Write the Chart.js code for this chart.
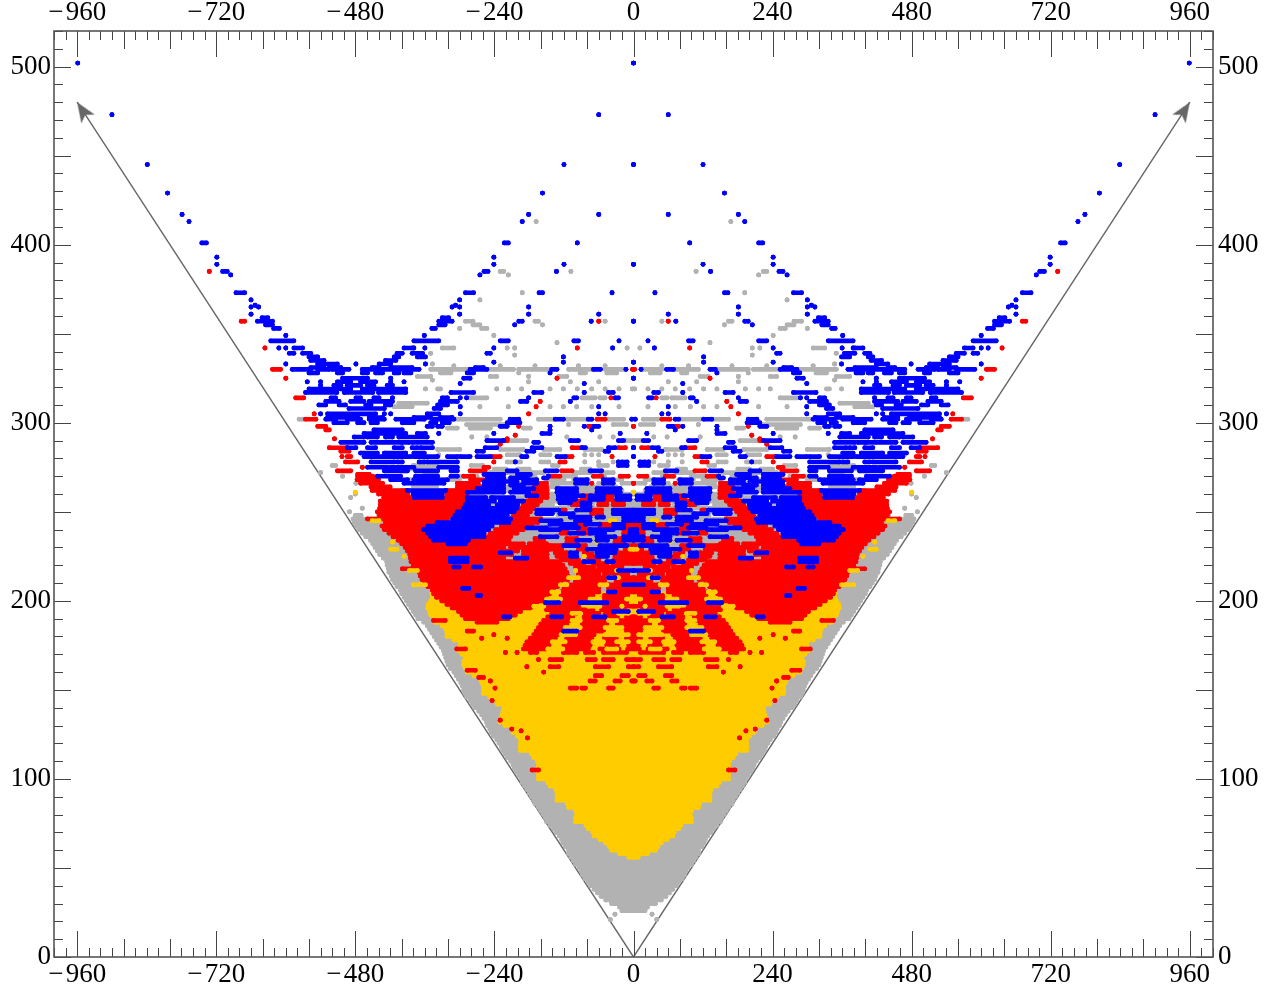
<!DOCTYPE html>
<html>
<head>
<meta charset="utf-8">
<style>
  html, body { margin: 0; padding: 0; background: #fff; }
  canvas { display: block; }
</style>
<script src="https://cdn.jsdelivr.net/npm/chart.js@4/dist/chart.umd.js"></script>
</head>
<body>
<canvas id="grafica" width="1273" height="989"></canvas>
<script>
// filas de la mitad derecha: [y, x1, x2, x3, x4, ...], cada par es un tramo
const grayRows = [
[21,40,40],[24,32,32],[26,0,20],[28,0,24],[30,0,38],[32,0,48],[34,0,56],[36,0,62],[38,0,68],[40,0,74],[42,0,78],[44,0,84],[46,0,88],[48,0,90],[50,0,94],[52,0,100],[54,0,104],[56,0,108],[58,0,112],[60,0,112],[62,0,118],[64,0,122],[66,0,124],[68,0,128],[70,0,134],[72,0,138],[74,0,144],[76,0,150],[78,0,152],[80,0,156],[82,0,160],[84,0,164],[86,0,170],[88,0,172],[90,0,176],[92,0,180],[94,0,184],[96,0,188],[98,0,192],[100,0,194],[102,0,198],[104,0,202],[106,0,206],[108,0,208],[110,0,212],[112,0,218],[114,0,222],[116,0,226],[118,0,228],[120,0,232],[122,0,236],[124,0,242],[126,0,246],[128,0,248],[130,0,252],[132,0,254],[134,0,258],[136,0,262],[138,0,267],[140,0,274],[142,0,278],[144,0,282],[146,0,288],[148,0,291],[150,0,293],[152,0,295],[154,0,298],[156,0,302],[158,0,306],[160,0,310],[162,0,316],[164,0,320],[166,0,322],[168,0,324],[170,0,326],[172,0,328],[174,0,332],[176,0,336],[178,0,340],[180,0,344],[182,0,348],[184,0,352],[186,0,356],[188,0,362],[190,0,372],[192,0,376],[194,0,380],[196,0,384],[198,0,388],[200,0,392],[202,0,396],[204,0,400],[206,0,402],[208,0,408],[210,0,412],[212,0,416],[214,0,418],[216,0,422],[218,0,423],[220,0,425],[222,0,426],[224,0,432],[226,0,438],[228,0,442],[230,0,446],[232,0,450],[234,0,454],[236,0,462],[238,0,468],[240,0,474],[242,0,478],[244,0,482],[246,0,484],
[248,12,130,160,260,340,440,470,480],[250,14,100,120,240,330,430,490,490],[252,0,80,100,220,310,420,468,468],[254,0,60,70,110,140,290,320,410],[256,0,100,120,200,300,330,350,400],[258,10,80,110,210,240,270,340,400,488,488],[260,0,40,70,170,260,300,350,390,480,480],[262,20,90,170,230,310,350,370,400],[264,30,100,130,170,200,250,340,380],[266,0,20,40,60,100,140,180,210,340,380,479,479],[268,20,50,78,103,120,150,210,250,300,330,345,385],[270,50,70,100,130,170,210,270,300,502,502],[272,35,55,75,103,155,201,207,247,340,360,540,540],[274,75,90,180,200,220,240,345,390],[276,45,60,130,140,260,280,340,380,514,520],[278,35,35,60,60,84,84,146,160,195,218],[282,60,60,72,72,84,84,144,160,196,218,336,336],[285,55,84,127,155,190,230,300,338],[290,0,12,184,218],[292,35,35,58,58,115,115,253,253,279,279],[297,178,190,247,282,304,321],[299,12,35,112,112,218,288],[302,17,43,80,115,138,164,230,305,571,577],[309,25,25,72,72,98,98,121,121,144,144,216,216,265,265,382,413],[311,356,405],[314,49,58,66,89,253,282],[319,2,2,25,25,49,49,72,72,97,97,121,121,144,144,193,193,216,216,236,236,333,338,359,359],[323,60,60,109,109,181,181],[324,347,347],[326,115,129,181,181,236,247,350,373],[328,29,46,83,92,198,198,315,333],[330,17,49,72,112,147,198,207,253,282,350],[332,49,49,95,95,170,170,230,230,310,310],[333,347,347],[338,205,205],[339,350,350],[342,11,11,205,205,218,218,310,330],[345,132,132],[349,241,241],[353,253,262,300,300],[355,157,157,265,277],[357,49,49,164,170,277,290],[369,265,265],[373,192,192],[383,216,216],[385,108,108,224,230],[413,168,168]
];

const yellowRows = [
[56,0,8],[58,0,24],[60,0,38],[62,0,42],[64,0,48],[66,0,58],[68,0,68],[70,0,70],[72,0,78],[74,0,82],[76,0,100],[78,0,100],[80,0,98],[82,0,100],[84,0,112],[86,0,114],[88,0,132],[90,0,132],[92,0,132],[94,0,134],[96,0,144],[98,0,148],[100,0,164],[102,0,164],[104,0,164],[106,0,164],[108,0,164],[110,0,166],[112,0,172],[114,0,176],[116,0,195],[118,0,196],[120,0,195],[122,0,195],[124,0,200],[126,0,208],[128,0,210],[130,0,222],[132,0,230],[134,0,228],[136,0,227],[138,0,225],[140,0,224],[142,0,235],[144,0,241],[146,0,248],[148,0,259],[150,0,259],[152,0,259],[154,0,262],[156,0,264],[158,0,275],[160,0,287],[162,0,290],[164,0,293],[166,0,293],[168,0,290],[170,0,296],[172,0,302],[174,0,300],[176,0,299],[178,0,310],[180,0,322],[182,0,322],[184,0,324],[186,0,330],[188,0,342],[190,0,344],[192,0,350],[194,0,352],[196,0,355],[198,0,354],[200,0,350],[202,0,347],[204,0,348]
];

// amarillo que queda por encima del rojo
const yellowTopRows = [
[261,0,0,480,480],[245,32,40,439,451],[233,63,63,416,416],[229,0,6,63,75,408,419],[225,85,85,396,396],[217,29,29,100,100,373,387],[213,26,43,95,112],[209,46,58,115,126,359,380],[205,129,141],[201,0,12,58,75,126,150],[197,20,20,58,78,155,172],[193,9,26,92,106],[189,29,43,92,106],[185,20,49,92,118],[181,9,49,100,125],[177,9,29,52,70,118,140],[173,29,46,122,148]
];

const redRows = [
[385,732,732],[357,60,60,671,677],[342,97,97,636,636],[330,0,2,609,623],[325,132,132,600,600],[314,39,39,569,583],[312,161,161],[309,168,168],[305,181,181,551,551],[302,49,63,548,566],[298,0,0,72,78,198,198,531,545],[296,525,531],[293,204,204],[291,218,218,516,516],[290,218,224],[288,230,230],[286,14,26,89,106,494,525],[284,491,505],[281,37,37,106,115,230,244,488,494,503,503],[278,118,127,241,241,476,497],[275,250,258,468,468],[273,106,124,256,282,488,511],[271,456,476],[270,9,23,55,69,127,147,276,293,450,476],[268,252,281,440,477],[266,0,0,72,72,150,172,268,304,433,471],[264,150,172,264,304,420,453],
[262,149,172,276,322,393,451],[260,149,178,287,322,390,440],[259,37,52,72,89],[258,149,178,287,431],[257,37,52,72,89],[256,17,35,46,60,89,106,160,184,287,437],[254,17,35,46,60,89,106,166,190,287,437],[252,172,195,293,438],[251,55,72,118,124],[250,178,201,305,442],[249,55,72,118,124],[248,183,207,310,438],[246,160,212,321,459],[244,165,214,325,428],[243,0,12,35,58,83,95],[242,175,228,340,434],[241,0,12,35,58,83,95],[240,6,17,75,95,115,125,190,238,327,430],[238,6,17,75,95,115,125,201,247,327,422],[236,212,258,327,415],[235,17,32,98,115,155,170],[234,215,280,290,406],[233,17,32,98,115,155,170],[232,150,180,190,218,224,400],[231,0,14,83,95,124,144],[230,149,172,178,212,224,394],[229,0,14,83,95,124,144],
[228,149,190,200,390],[227,0,28,72,85,115,135],[226,149,190,210,386],[225,0,32,69,80,109,132],[224,149,183,224,385],[223,0,34,60,75,95,125],[222,127,178,185,384],[221,0,35,46,69,86,109],[220,122,380],[219,20,60,69,100],[218,118,399],[217,35,63,69,98],[216,115,370],[215,10,50,60,95],[214,113,368],[213,0,26,46,92],[212,113,365],[211,0,30,50,100],[210,125,360],[209,0,43,60,112],[208,131,355],[207,0,43,60,120],[206,138,347],[205,0,43,60,126],[204,145,345],[203,10,50,70,125],[202,150,340],[201,14,58,75,124],[200,155,331],[199,12,46,60,130],[198,167,322],[197,0,17,23,55,95,152],[196,178,313],[195,15,55,70,92,98,150],[194,195,302],[193,26,49,60,83,98,141],[192,204,296],[191,0,12,28,50,60,85,105,148],[190,216,290],[189,0,29,46,86,109,155,325,345],[188,236,270],[187,0,28,46,88,115,160],[185,0,20,49,89,121,164],[183,0,12,52,90,125,168,276,287],[181,0,9,68,100,129,172,241,241],[179,0,12,30,50,72,115,135,178,218,218,262,262],[177,0,8,30,50,72,118,141,184],[175,0,8,28,46,75,120,146,187],[173,0,10,25,30,46,58,78,121,150,190,290,305],[171,12,52,69,83,98,121,167,178,201,201,221,221],[167,0,12,35,52,66,80,124,144,164,164],[163,0,9,43,66,129,144,184,184],[161,273,287],[160,155,155],[158,9,20,55,66],[157,259,267],[155,0,3,23,32,66,75,247,247],[151,35,43,83,89,98,109,239,239],[144,244,244],[133,230,230],[128,210,210],[127,194,194],[123,183,183],[105,164,175]
];

const blueRows = [
[502,0,0,959,959],[473,60,60,900,900],[445,0,0,120,120,839,839],[429,157,157,804,804],[417,60,60,181,181,779,779],[413,192,192,767,767],[401,97,97,216,223,737,745],[393,241,241,719,719],[389,0,0,120,120,241,241,719,719],[385,133,133,251,258,701,709],[383,265,265,695,695],[373,37,37,157,163,276,290,671,686],[369,300,300,660,660],[366,307,307,653,653],[365,181,181,300,300,313,313,647,647,660,660],[361,60,60,181,181,300,300,660,660],[359,319,330,631,641],[357,0,0,73,73,192,198,313,336,623,649],[355,205,205,325,336,623,635],[353,342,348,611,621],[349,361,361,600,600],[346,25,25,95,103,216,230,336,379,586,626],
[342,36,36,241,241,360,360,379,379,382,396,571,586,600,600,612,612],[339,247,253,364,382,399,408,557,571,586,594],[337,121,121,359,373,405,413,545,560],[335,410,428,534,557],[334,0,0,121,121,241,241],[333,359,359,419,439,479,479,511,545,600,600],[331,259,273,382,419,439,451,505,525,534,557],[330,13,13,57,69,132,141,253,282,370,405,410,436,442,468,491,520,525,545,557,589],[328,144,144,276,287,384,396,405,413,433,445,459,468,502,511,545,560],[325,0,0,282,293,419,419,459,502],[323,396,396,419,419,445,471,488,511,540,540,563,563],[322,85,85,299,299],[321,416,425,448,459,471,494,505,517,540,540],[319,393,445,451,468,488,505,511,560],[317,35,43,85,85,158,172,276,315,393,440,450,499,512,566],[314,26,32,98,103,181,181,288,288,299,299,321,330,416,416,439,448,471,479,514,522],[312,109,109,184,195,304,333,416,456,465,488,508,531],[310,321,338,419,428,453,462,497,508,531,543],[309,60,60,299,299],[308,333,344,430,491],[305,49,49,60,60,299,299,336,356,419,419,430,430,445,528,540,540],[303,313,333,350,379,433,456,476,528],[302,3,3,72,78,121,135,198,213,310,333,338,347,361,410,430,456,471,494,514,531],[300,196,218,318,330,341,350,379,399,442,453,465,476,494,517],[298,60,68,85,85,144,144,218,230,330,338,347,356],[296,72,72,144,144,399,448],[294,23,23,144,158,241,241,336,336,359,373,393,445,448,465],[292,356,405,416,428,442,459,465,482],[290,17,26,95,109,224,253],[289,164,172,347,382,387,399,402,453,465,505],[286,0,0,32,43,83,89,158,175,236,256,347,367,373,382,399,413,445,459,479,494],[284,43,49,172,184,259,270],[283,361,379,393,430,442,471],[281,0,0,118,132,184,193,247,270,282,299,304,321,338,379,384,465],[278,11,20,26,26,204,204,304,356,361,370,399,408,413,453],[276,11,26],[275,304,336,379,419,425,459],[273,55,75,132,152,201,218,304,315,338,376,390,430],[271,178,200,224,258],[270,147,147,184,195,304,315,338,376,402,442],[269,149,155,183,212,224,252],[268,35,52,80,100,167,190,321,379,390,419],[267,201,258],[266,35,52,80,100,167,190,327,396],[265,190,212,224,258],
[263,23,63,98,132,172,206,224,270],[262,324,390],[261,23,63,98,132,181,212,224,287],[260,330,380],[259,6,29,52,75,86,130,167,184],[258,207,245,255,287,330,378],[257,6,29,52,75,100,130],[256,190,230,240,287],[255,75,89,109,127],[254,200,235,250,290],[253,75,89],[252,201,293],[251,0,35,75,98,129,167],[250,206,252,258,304],[249,0,35,104,127,140,167],[248,218,308],[247,0,17,52,63,75,109],[246,212,312],[245,0,17,75,100,125,160],[244,215,339],[243,17,35,58,83,100,144],[242,244,355],[241,17,35,95,125,150,184],[240,0,6,35,75,128,161,250,362],[238,0,6,50,75,86,110,258,355],[236,0,17,32,63,132,161,258,350],[234,0,17,45,63,75,98,285,345],[232,290,320],[231,12,58,95,120],[229,30,58,60,80],[227,32,63,98,109,212,230],[225,45,63,98,109],[224,184,204,287,316],[222,35,46,69,86,287,316],[219,264,276,301,310],[217,0,26],[213,32,43],[209,0,17],[207,284,295],[205,32,43],[203,264,270],[199,46,92,129,152],[194,9,35],[191,49,69,124,141,213,224],[183,98,121]
];

const arrowX = [0, 960];
const arrowY = [0, 480];

const xTickLabels = [-960, -720, -480, -240, 0, 240, 480, 720, 960];
const yTickLabels = [0, 100, 200, 300, 400, 500];

function aPuntos(rows) {
  const pts = [];
  [1, -1].forEach(lado => {
    rows.forEach(r => {
      for (let i = 1; i < r.length; i += 2) {
        pts.push({x: lado * r[i], y: r[0]}, {x: lado * r[i + 1], y: r[0]}, {x: null, y: null});
      }
    });
  });
  return pts;
}

function serie(rows, color) {
  return {
    data: aPuntos(rows),
    showLine: true,
    spanGaps: false,
    borderColor: color,
    backgroundColor: color,
    borderWidth: 4.6,
    borderCapStyle: 'round',
    pointRadius: 2.4,
    pointBorderWidth: 0
  };
}

// punta de flecha con muesca, el vértice queda en el centro del canvas
function puntaFlecha() {
  const c = document.createElement('canvas');
  c.width = 48; c.height = 48;
  const g = c.getContext('2d');
  g.fillStyle = '#666';
  g.beginPath();
  g.moveTo(24, 24);
  g.lineTo(32, 44);
  g.lineTo(24, 39);
  g.lineTo(16, 44);
  g.closePath();
  g.fill();
  return c;
}
const punta = puntaFlecha();

function flecha(signo) {
  return {
    data: arrowX.map((x, i) => ({x: signo * x, y: arrowY[i]})),
    showLine: true,
    borderColor: '#666',
    borderWidth: 1.4,
    pointStyle: [false, punta],
    pointRadius: [0, 12],
    pointRotation: signo * 33
  };
}

function fmt(v) {
  return v < 0 ? '\u2212\u200a' + Math.abs(v) : String(v);
}

// marcas hacia adentro en los cuatro lados
const marcas = {
  id: 'marcas',
  afterDraw(chart) {
    const {ctx, chartArea: a, scales} = chart;
    ctx.save();
    ctx.strokeStyle = '#444';
    ctx.lineWidth = 1;
    ctx.beginPath();
    for (let v = -1000; v <= 1000; v += 20) {
      const px = Math.round(scales.x.getPixelForValue(v)) + 0.5;
      const l = v % 240 === 0 ? 26 : (v % 80 === 0 ? 18 : 9);
      ctx.moveTo(px, a.top); ctx.lineTo(px, a.top + l);
      ctx.moveTo(px, a.bottom); ctx.lineTo(px, a.bottom - l);
    }
    for (let v = 0; v <= 520; v += 10) {
      const py = Math.round(scales.y.getPixelForValue(v)) + 0.5;
      const l = v % 50 === 0 ? 17 : 9;
      ctx.moveTo(a.left, py); ctx.lineTo(a.left + l, py);
      ctx.moveTo(a.right, py); ctx.lineTo(a.right - l, py);
    }
    ctx.stroke();
    ctx.strokeStyle = '#555';
    ctx.lineWidth = 1.6;
    ctx.strokeRect(a.left, a.top, a.right - a.left, a.bottom - a.top);
    ctx.restore();
  }
};

const fuente = {family: '"Liberation Serif", serif', size: 27};

function ejeX(pos, alto) {
  return {
    type: 'linear', position: pos, min: -1000, max: 1000,
    grid: {display: false, drawTicks: false}, border: {display: false},
    afterBuildTicks: s => { s.ticks = xTickLabels.map(v => ({value: v})); },
    afterFit: s => { s.height = alto; },
    ticks: {color: '#000', font: fuente, padding: 2, maxRotation: 0, autoSkip: false, callback: fmt}
  };
}
function ejeY(pos, ancho, pad) {
  return {
    type: 'linear', position: pos, min: 0, max: 520,
    grid: {display: false, drawTicks: false}, border: {display: false},
    afterBuildTicks: s => { s.ticks = yTickLabels.map(v => ({value: v})); },
    afterFit: s => { s.width = ancho; },
    ticks: {color: '#000', font: fuente, padding: pad, autoSkip: false, callback: fmt}
  };
}

new Chart(document.getElementById('grafica'), {
  type: 'scatter',
  data: {
    // el primer dataset queda encima
    datasets: [
      serie(blueRows, '#0000ff'),
      serie(yellowTopRows, '#ffcc00'),
      serie(redRows, '#ff0000'),
      serie(yellowRows, '#ffcc00'),
      serie(grayRows, '#b2b2b2'),
      flecha(1),
      flecha(-1)
    ]
  },
  plugins: [marcas],
  options: {
    responsive: false,
    animation: false,
    events: [],
    layout: {padding: 0},
    plugins: {legend: {display: false}, tooltip: {enabled: false}},
    scales: {
      x: ejeX('bottom', 32),
      xArriba: ejeX('top', 31),
      y: ejeY('left', 54, 3),
      yDerecha: ejeY('right', 60, 5)
    }
  }
});
</script>
</body>
</html>
